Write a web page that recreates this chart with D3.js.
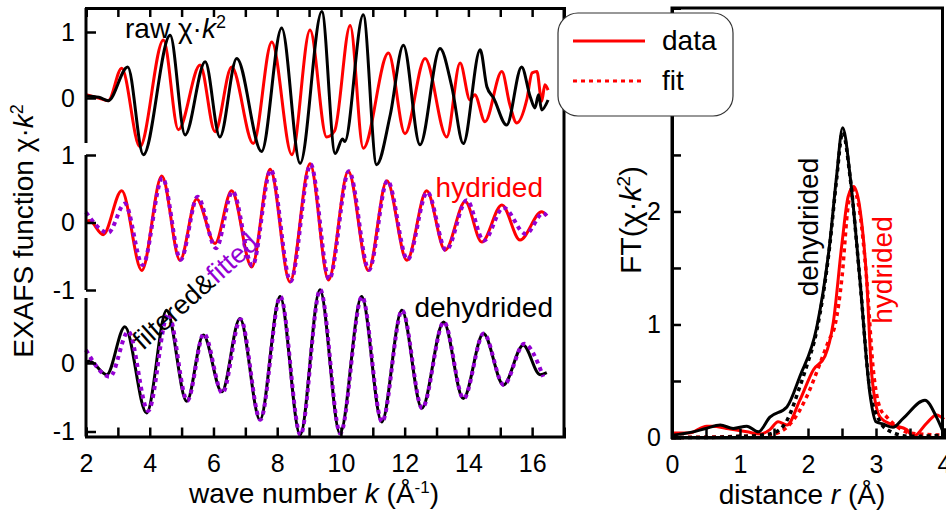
<!DOCTYPE html>
<html>
<head>
<meta charset="utf-8">
<script src="https://cdn.jsdelivr.net/npm/d3@7"></script>
<style>
body { margin: 0; background: #fff; }
svg text { font-family: "Liberation Sans", Arial, sans-serif; }
</style>
</head>
<body>
<div id="chart"></div>
<script>
// k-space, raw chi*k^2  [k, value]
var rawHydrided = [[2.0,0.05],[2.4,0.0],[2.7,-0.04],[3.12,0.45],[3.69,-0.74],[4.43,0.88],[4.9,-0.48],[5.58,0.5],[6.05,-0.51],[6.57,0.47],[7.25,-0.69],[7.83,0.85],[8.46,-0.86],[9.03,1.03],[9.55,-0.59],[9.8,-0.5],[10.29,1.1],[10.7,-0.76],[11.49,0.68],[12.01,-0.54],[12.64,0.6],[13.32,-0.59],[13.74,0.53],[14.05,-0.03],[14.2,0.05],[14.52,-0.36],[15.05,0.4],[15.3,-0.1],[15.52,-0.38],[15.83,-0.03],[16.0,0.38],[16.15,0.4],[16.3,-0.05],[16.4,0.2],[16.5,0.12]];
var rawDehydrided = [[2.0,0.03],[2.4,0.01],[2.7,-0.04],[3.31,0.47],[3.8,-0.86],[4.64,0.95],[5.11,-0.56],[5.74,0.55],[6.2,-0.59],[6.73,0.6],[7.51,-0.81],[8.14,1.06],[8.72,-0.99],[9.4,1.31],[9.82,-0.84],[10.05,-0.62],[10.12,-0.66],[10.7,1.26],[11.12,-1.01],[11.55,-0.25],[11.96,0.8],[12.48,-0.71],[13.11,0.75],[13.48,0.17],[13.84,-0.69],[14.37,0.73],[14.58,0.17],[14.79,0.0],[15.2,-0.41],[15.67,0.47],[15.94,0.02],[16.09,-0.15],[16.2,0.05],[16.3,-0.18],[16.5,-0.03]];

// filtered data and fits
var filtHydrided = [[2.0,0.0],[2.1,0.03],[2.54,-0.18],[3.12,0.47],[3.75,-0.71],[4.38,0.69],[4.95,-0.56],[5.47,0.35],[6.05,-0.31],[6.57,0.47],[7.2,-0.66],[7.78,0.79],[8.4,-0.88],[9.03,0.87],[9.61,-0.85],[10.23,0.76],[10.86,-0.71],[11.44,0.62],[12.07,-0.56],[12.69,0.47],[13.27,-0.41],[13.9,0.31],[14.42,-0.29],[15.05,0.26],[15.62,-0.26],[16.3,0.16],[16.46,0.1]];
var fitHydrided = [[2.0,0.15],[2.7,-0.15],[3.22,0.28],[3.78,-0.63],[4.4,0.66],[4.97,-0.55],[5.5,0.38],[6.08,-0.38],[6.6,0.46],[7.22,-0.64],[7.8,0.78],[8.42,-0.87],[9.05,0.86],[9.63,-0.84],[10.25,0.76],[10.88,-0.7],[11.46,0.62],[12.09,-0.55],[12.71,0.45],[13.3,-0.41],[13.95,0.33],[14.48,-0.27],[15.1,0.22],[15.8,-0.17],[16.35,0.14],[16.46,0.1]];
var filtDehydrided = [[2.0,0.0],[2.1,0.03],[2.65,-0.17],[3.22,0.53],[3.9,-0.73],[4.53,0.77],[5.16,-0.56],[5.68,0.41],[6.26,-0.42],[6.83,0.65],[7.46,-0.83],[8.09,0.97],[8.72,-1.05],[9.34,1.07],[9.97,-1.03],[10.65,0.97],[11.28,-0.86],[11.91,0.77],[12.54,-0.66],[13.22,0.6],[13.84,-0.52],[14.47,0.43],[15.1,-0.32],[15.72,0.26],[16.25,-0.17],[16.46,-0.14]];
var fitDehydrided = [[2.0,0.19],[2.75,-0.2],[3.33,0.46],[3.95,-0.7],[4.58,0.72],[5.18,-0.55],[5.7,0.43],[6.28,-0.44],[6.85,0.64],[7.47,-0.83],[8.1,0.97],[8.73,-1.05],[9.35,1.07],[9.98,-1.03],[10.66,0.97],[11.29,-0.86],[11.92,0.77],[12.55,-0.66],[13.23,0.6],[13.85,-0.52],[14.48,0.43],[15.11,-0.32],[15.75,0.28],[16.35,-0.2]];

// r-space, FT magnitude  [r, value]
var ftDehydrided = [[0,0.02],[0.31,0.05],[0.5,0.08],[0.71,0.11],[0.9,0.08],[1.1,0.1],[1.27,0.05],[1.44,0.18],[1.69,0.27],[1.88,0.54],[2.13,0.98],[2.32,1.72],[2.42,2.31],[2.51,2.74],[2.62,2.31],[2.76,1.42],[2.91,0.39],[3.0,0.14],[3.1,0.12],[3.25,0.09],[3.4,0.17],[3.72,0.33],[3.89,0.18],[4.0,0.03]];
var ftFitDehydrided = [[0,0.0],[0.5,0.0],[1.0,0.01],[1.3,0.02],[1.49,0.04],[1.69,0.15],[1.88,0.45],[1.98,0.63],[2.13,0.95],[2.32,1.7],[2.42,2.28],[2.51,2.7],[2.62,2.3],[2.76,1.42],[2.91,0.42],[3.05,0.15],[3.16,0.07],[3.5,0.01],[4.0,0.02]];
var ftHydrided = [[0,0.04],[0.25,0.04],[0.51,0.1],[0.6,0.1],[0.8,0.08],[1.1,0.05],[1.3,0.03],[1.44,0.07],[1.56,0.14],[1.69,0.11],[1.88,0.33],[2.08,0.6],[2.25,0.72],[2.37,1.01],[2.5,1.72],[2.59,2.13],[2.67,2.22],[2.76,2.04],[2.86,1.42],[2.94,0.54],[3.06,0.18],[3.25,0.11],[3.45,0.07],[3.55,0.01],[3.75,0.13],[3.89,0.2],[4.0,0.16]];
var ftFitHydrided = [[0,0.0],[1.0,0.01],[1.4,0.02],[1.59,0.05],[1.78,0.15],[1.98,0.36],[2.18,0.66],[2.3,0.85],[2.4,1.0],[2.5,1.42],[2.59,2.05],[2.66,2.2],[2.76,2.0],[2.86,1.42],[2.96,0.6],[3.06,0.26],[3.16,0.18],[3.3,0.1],[3.5,0.04],[4.0,0.02]];

// tick labels
var kTickLabels = [2, 4, 6, 8, 10, 12, 14, 16];
var rawTickLabels = [1, 0];
var hydTickLabels = [1, 0, -1];
var dehTickLabels = [0, -1];
var rTickLabels = [0, 1, 2, 3, 4];
var ftTickLabels = [0, 1, 2, 3];
var legendItems = ["data", "fit"];

var width = 946, height = 510;
var red = "#ff0000", purple = "#9400d3";
var tickFont = 25, labelFont = 28;

var svg = d3.select("#chart").append("svg")
    .attr("width", width)
    .attr("height", height);

// Left panel: k space
//-----------------------------------------------------
var kx = d3.scaleLinear().domain([2, 17]).range([86, 564]);
var yRaw = d3.scaleLinear().domain([-1, 1]).range([164, 32]);
var yHyd = d3.scaleLinear().domain([-1, 1]).range([290, 155]);
var yDeh = d3.scaleLinear().domain([-1, 1]).range([431.5, 294.5]);
var kBottom = 436.5, kTop = 8;

function curve(xs, ys) {
    return d3.line()
        .x(function(d) { return xs(d[0]); })
        .y(function(d) { return ys(d[1]); })
        .curve(d3.curveMonotoneX);
}

function drawLine(data, xs, ys, color, w, dash) {
    var p = svg.append("path")
        .datum(data)
        .attr("d", curve(xs, ys))
        .attr("fill", "none")
        .attr("stroke", color)
        .attr("stroke-width", w)
        .attr("stroke-linejoin", "round");
    if (dash) p.attr("stroke-dasharray", dash);
    return p;
}

drawLine(rawHydrided, kx, yRaw, red, 3);
drawLine(rawDehydrided, kx, yRaw, "#000", 3);
drawLine(filtHydrided, kx, yHyd, red, 3);
drawLine(fitHydrided, kx, yHyd, purple, 4, "4,4");
drawLine(filtDehydrided, kx, yDeh, "#000", 3);
drawLine(fitDehydrided, kx, yDeh, purple, 4, "4,4");

// frame: bottom axis, top ticks, right border
var gxb = svg.append("g")
    .attr("transform", "translate(0," + kBottom + ")")
    .call(d3.axisBottom(kx)
        .tickValues(d3.range(2, 17))
        .tickSize(-9)
        .tickPadding(18)
        .tickFormat(function(d) { return kTickLabels.indexOf(d) >= 0 ? d : ""; }));
var gxt = svg.append("g")
    .attr("transform", "translate(0," + kTop + ")")
    .call(d3.axisTop(kx).tickValues(d3.range(3, 17)).tickSize(-9).tickFormat(""));
svg.append("line")
    .attr("x1", kx(17)).attr("x2", kx(17))
    .attr("y1", kTop).attr("y2", kBottom);

// left axis segments, one per stacked trace
function leftSegment(ys, y0, y1, labels) {
    var g = svg.append("g")
        .attr("transform", "translate(" + kx(2) + ",0)")
        .call(d3.axisLeft(ys).tickValues(labels).tickSize(-10).tickPadding(11)
            .tickFormat(function(d) { return d === 0 ? "0" : String(d); }));
    g.select(".domain").attr("d", "M0," + y0 + "V" + y1);
    return g;
}
var gRaw = leftSegment(yRaw, kTop, 143, rawTickLabels);
var gHyd = leftSegment(yHyd, 155, 290, hydTickLabels);
var gDeh = leftSegment(yDeh, 298, kBottom, dehTickLabels);

// Right panel: r space
//-----------------------------------------------------
var rx = d3.scaleLinear().domain([0, 4]).range([672, 944]);
var fy = d3.scaleLinear().domain([0, 3.8]).range([437.5, 8]);

drawLine(ftHydrided, rx, fy, red, 3);
drawLine(ftFitHydrided, rx, fy, red, 3.5, "4,4");
drawLine(ftDehydrided, rx, fy, "#000", 3);
drawLine(ftFitDehydrided, rx, fy, "#000", 3.5, "4,4");

var grb = svg.append("g")
    .attr("transform", "translate(0," + fy(0) + ")")
    .call(d3.axisBottom(rx)
        .tickValues(d3.range(0, 4.01, 0.5))
        .tickSize(-9)
        .tickPadding(18)
        .tickFormat(function(d) { return rTickLabels.indexOf(d) >= 0 ? d : ""; }));
var grl = svg.append("g")
    .attr("transform", "translate(" + rx(0) + ",0)")
    .call(d3.axisLeft(fy)
        .tickValues(d3.range(0, 3.51, 0.5))
        .tickSize(-9)
        .tickPadding(11)
        .tickFormat(function(d) { return ftTickLabels.indexOf(d) >= 0 ? d : ""; }));
svg.append("rect")
    .attr("x", rx(0)).attr("y", 8)
    .attr("width", rx(4) - rx(0) - 1.5).attr("height", fy(0) - 8)
    .attr("fill", "none");

// axis styling
svg.selectAll(".domain, .tick line, line, rect")
    .attr("stroke", "#000")
    .attr("stroke-width", 3);
svg.selectAll(".tick text")
    .attr("fill", "#000")
    .style("font-size", tickFont + "px");
svg.selectAll(".tick line").attr("stroke-width", 2.5);

// Texts
//-----------------------------------------------------
function label(x, y, rot, anchor, size) {
    var t = svg.append("text")
        .attr("transform", "translate(" + x + "," + y + ")" + (rot ? " rotate(" + rot + ")" : ""))
        .attr("text-anchor", anchor)
        .style("font-size", size + "px");
    return t;
}

var xl = label(314, 503, 0, "middle", labelFont);
xl.append("tspan").text("wave number ");
xl.append("tspan").style("font-style", "italic").text("k");
xl.append("tspan").text(" (Å");
xl.append("tspan").attr("dy", -10).style("font-size", "17px").text("-1");
xl.append("tspan").attr("dy", 10).text(")");

var rl = label(802, 504, 0, "middle", labelFont);
rl.append("tspan").text("distance ");
rl.append("tspan").style("font-style", "italic").text("r");
rl.append("tspan").text(" (Å)");

var yl = label(33, 231, -90, "middle", labelFont);
yl.append("tspan").text("EXAFS function χ·");
yl.append("tspan").style("font-style", "italic").text("k");
yl.append("tspan").attr("dy", -10).style("font-size", "18px").text("2");

var fl = label(641, 220, -90, "middle", 30);
fl.append("tspan").text("FT(χ·");
fl.append("tspan").style("font-style", "italic").text("k");
fl.append("tspan").attr("dy", -11).style("font-size", "19px").text("2");
fl.append("tspan").attr("dy", 11).text(")");

var raw = label(125, 38, 0, "start", labelFont);
raw.append("tspan").text("raw χ·");
raw.append("tspan").style("font-style", "italic").text("k");
raw.append("tspan").attr("dy", -10).style("font-size", "18px").text("2");

label(543, 197, 0, "end", labelFont).attr("fill", red).text("hydrided");
label(553, 317, 0, "end", labelFont).text("dehydrided");

var ff = label(143, 351, -42, "start", 27);
ff.append("tspan").text("filtered&");
ff.append("tspan").attr("fill", purple).text("fitted");

label(818, 227, -90, "middle", labelFont).text("dehydrided");
label(892, 270, -90, "middle", labelFont).attr("fill", red).text("hydrided");

// Legend
//-----------------------------------------------------
var legend = svg.append("g").attr("transform", "translate(558,13)");
legend.append("rect")
    .attr("width", 175).attr("height", 103)
    .attr("rx", 20).attr("ry", 20)
    .attr("fill", "#fff")
    .attr("stroke", "#333")
    .attr("stroke-width", 1.2);
legend.selectAll("g.item")
    .data(legendItems)
    .enter()
    .append("g")
    .attr("class", "item")
    .attr("transform", function(d, i) { return "translate(0," + (28 + i * 40) + ")"; })
    .each(function(d, i) {
        var g = d3.select(this);
        g.append("line")
            .attr("x1", 15).attr("x2", 87)
            .attr("stroke", red)
            .attr("stroke-width", 3)
            .attr("stroke-dasharray", i ? "4,4" : null);
        g.append("text")
            .attr("x", 104).attr("y", 9)
            .style("font-size", labelFont + "px")
            .text(d);
    });
</script>
</body>
</html>
